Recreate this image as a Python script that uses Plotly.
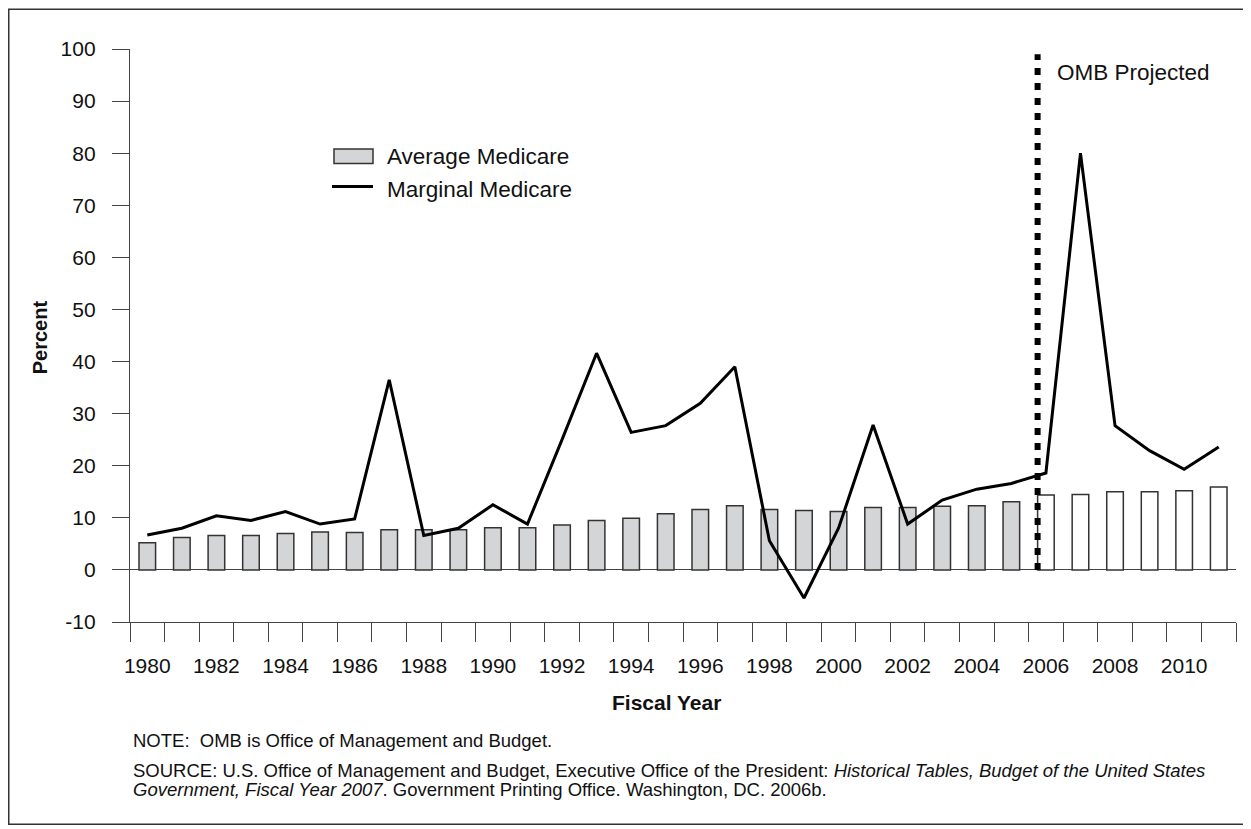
import plotly.graph_objects as go

# ---------------- data ----------------
years = list(range(1980, 2012))
average_medicare = [5.2, 6.2, 6.6, 6.6, 7.0, 7.3, 7.2, 7.7, 7.7, 7.7,
                    8.1, 8.1, 8.6, 9.5, 9.9, 10.8, 11.6, 12.3, 11.6, 11.4,
                    11.2, 12.0, 12.0, 12.2, 12.3, 13.1, 14.4, 14.5, 15.0, 15.0,
                    15.2, 15.9]
marginal_medicare = [6.7, 8.0, 10.4, 9.5, 11.2, 8.8, 9.8, 36.5, 6.6, 8.0,
                     12.5, 8.8, 25.0, 41.6, 26.4, 27.7, 32.0, 39.0, 5.6, -5.4,
                     8.0, 27.8, 8.8, 13.4, 15.5, 16.6, 18.6, 80.0, 27.7, 22.9,
                     19.3, 23.6]
projection_start = 2006
x_tick_years = list(range(1980, 2011, 2))
y_ticks = list(range(-10, 101, 10))

# ---------------- style ----------------
FONT = "Liberation Sans, Arial, Helvetica, sans-serif"
OFF = 8  # page body margin offset
W, H = 1251 - OFF, 829 - OFF
L, R, T, B = 130 - OFF, 15, 48.5 - OFF, 207
PW, PH = W - L - R, H - T - B
AXC = "#444444"
BAR_FILL = "#d4d5d7"
BAR_W = 0.48


def px(x):
    """page x pixel -> paper coordinate"""
    return (x - OFF - L) / PW


def py(y):
    """page y pixel -> paper coordinate"""
    return (H - B - (y - OFF)) / PH


fills = [BAR_FILL if yr < projection_start else "white" for yr in years]

fig = go.Figure()
fig.add_bar(x=years, y=average_medicare, width=BAR_W,
            marker=dict(color=fills, line=dict(color="#333333", width=1.5)),
            showlegend=False, hoverinfo="skip")
fig.add_scatter(x=years, y=marginal_medicare, mode="lines",
                line=dict(color="black", width=3),
                showlegend=False, hoverinfo="skip")

shapes = []
# projection divider
shapes.append(dict(type="line", xref="x", yref="y",
                   x0=projection_start - BAR_W / 2, x1=projection_start - BAR_W / 2,
                   y0=0, y1=99, layer="above",
                   line=dict(color="black", width=6, dash="7px,8px")))
# custom legend
shapes.append(dict(type="rect", xref="paper", yref="paper",
                   x0=px(334), x1=px(373), y0=py(163), y1=py(148.5),
                   fillcolor=BAR_FILL, line=dict(color="#333333", width=1.5)))
shapes.append(dict(type="line", xref="paper", yref="paper",
                   x0=px(332), x1=px(373), y0=py(186), y1=py(186),
                   line=dict(color="black", width=3)))
# outer frame
shapes.append(dict(type="rect", xref="paper", yref="paper",
                   x0=px(OFF + 0.75), x1=px(1246.5), y0=py(824.5), y1=py(OFF + 0.75),
                   line=dict(color="#333333", width=1.5)))

txt = "#111111"
annotations = [
    dict(text="OMB Projected", xref="paper", yref="paper", x=px(1055), y=py(72.5),
         xanchor="left", yanchor="middle", showarrow=False,
         font=dict(family=FONT, size=22.5, color=txt)),
    dict(text="Average Medicare", xref="paper", yref="paper", x=px(385), y=py(156),
         xanchor="left", yanchor="middle", showarrow=False,
         font=dict(family=FONT, size=22.5, color=txt)),
    dict(text="Marginal Medicare", xref="paper", yref="paper", x=px(385), y=py(189),
         xanchor="left", yanchor="middle", showarrow=False,
         font=dict(family=FONT, size=22.5, color=txt)),
    dict(text="<b>Percent</b>", xref="paper", yref="paper", x=px(40), y=py(337),
         xanchor="center", yanchor="middle", textangle=-90, showarrow=False,
         font=dict(family=FONT, size=20, color=txt)),
    dict(text="<b>Fiscal Year</b>", xref="paper", yref="paper", x=px(666), y=py(703),
         xanchor="center", yanchor="middle", showarrow=False,
         font=dict(family=FONT, size=21, color=txt)),
    dict(text="NOTE:  OMB is Office of Management and Budget.", xref="paper", yref="paper",
         x=px(131), y=py(741), xanchor="left", yanchor="middle", showarrow=False,
         font=dict(family=FONT, size=18.5, color=txt)),
    dict(text="SOURCE: U.S. Office of Management and Budget, Executive Office of the President: "
              "<i>Historical Tables, Budget of the United States</i>",
         xref="paper", yref="paper",
         x=px(131), y=py(771), xanchor="left", yanchor="middle", showarrow=False,
         font=dict(family=FONT, size=18.5, color=txt)),
    dict(text="<i>Government, Fiscal Year 2007</i>. Government Printing Office. Washington, DC. 2006b.",
         xref="paper", yref="paper",
         x=px(131), y=py(790), xanchor="left", yanchor="middle", showarrow=False,
         font=dict(family=FONT, size=18.5, color=txt)),
]

fig.update_layout(
    width=W, height=H,
    margin=dict(l=L, r=R, t=T, b=B, autoexpand=False),
    paper_bgcolor="white", plot_bgcolor="white",
    showlegend=False,
    shapes=shapes,
    annotations=annotations,
    xaxis=dict(range=[1979.5, 2011.5], tickmode="array", tickvals=x_tick_years,
               ticktext=[str(v) for v in x_tick_years], ticks="",
               ticklabelstandoff=25,
               tickfont=dict(family=FONT, size=21, color=txt),
               showline=True, linecolor=AXC, linewidth=1.3,
               showgrid=False, zeroline=False, fixedrange=True,
               minor=dict(tickmode="linear", tick0=1979.5, dtick=1, ticks="outside",
                          ticklen=19, tickwidth=1.3, tickcolor=AXC, showgrid=False)),
    yaxis=dict(range=[-10, 100], tickmode="array", tickvals=y_ticks,
               ticktext=[str(v) for v in y_ticks],
               ticks="outside", ticklen=17, tickwidth=1.3, tickcolor=AXC,
               ticklabelstandoff=12,
               tickfont=dict(family=FONT, size=21, color=txt),
               showline=True, linecolor=AXC, linewidth=1.3,
               showgrid=False, zeroline=True, zerolinecolor=AXC, zerolinewidth=1.3,
               fixedrange=True),
)

fig.write_html("out.html")
